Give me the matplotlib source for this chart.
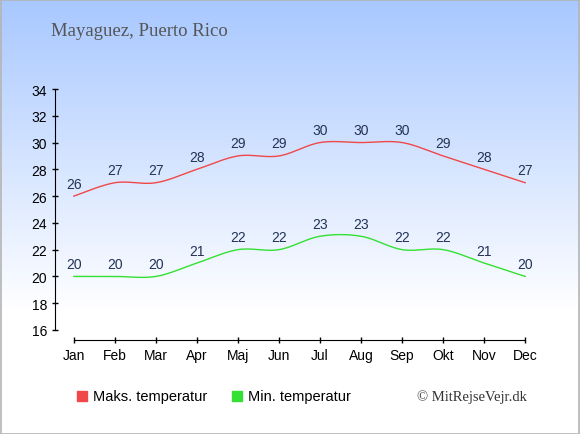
import numpy as np
import matplotlib
matplotlib.use("Agg")
import matplotlib.pyplot as plt
from matplotlib.colors import LinearSegmentedColormap
from matplotlib.patches import Rectangle

# -------------------------------------------------------------------------------------
# Data
# -------------------------------------------------------------------------------------
months = ["Jan", "Feb", "Mar", "Apr", "Maj", "Jun",
          "Jul", "Aug", "Sep", "Okt", "Nov", "Dec"]
max_temp = [26, 27, 27, 28, 29, 29, 30, 30, 30, 29, 28, 27]
min_temp = [20, 20, 20, 21, 22, 22, 23, 23, 22, 22, 21, 20]
y_ticks = list(range(16, 35, 2))

title = "Mayaguez, Puerto Rico"
label_max = "Maks. temperatur"
label_min = "Min. temperatur"
credit = "\u00a9 MitRejseVejr.dk"

red = "#f04848"
green = "#33e033"
label_color = "#223355"


def cardinal(xs, ys, n=30, tension=0.5):
    # smooth curve through the points (cardinal spline)
    xs = np.asarray(xs, float)
    ys = np.asarray(ys, float)
    px = np.concatenate([[xs[0]], xs, [xs[-1]]])
    py = np.concatenate([[ys[0]], ys, [ys[-1]]])
    out_x, out_y = [], []
    t = np.linspace(0, 1, n)
    h00 = 2 * t**3 - 3 * t**2 + 1
    h10 = t**3 - 2 * t**2 + t
    h01 = -2 * t**3 + 3 * t**2
    h11 = t**3 - t**2
    for i in range(1, len(px) - 2):
        mx0 = tension * (px[i + 1] - px[i - 1])
        my0 = tension * (py[i + 1] - py[i - 1])
        mx1 = tension * (px[i + 2] - px[i])
        my1 = tension * (py[i + 2] - py[i])
        out_x.append(h00 * px[i] + h10 * mx0 + h01 * px[i + 1] + h11 * mx1)
        out_y.append(h00 * py[i] + h10 * my0 + h01 * py[i + 1] + h11 * my1)
    return np.concatenate(out_x), np.concatenate(out_y)


plt.rcParams["font.family"] = ["Liberation Sans", "DejaVu Sans"]

fig = plt.figure(figsize=(5.8, 4.35), dpi=100)

# background gradient
bg = fig.add_axes([0, 0, 1, 1])
grad = np.linspace(0, 1, 435).reshape(-1, 1)
cmap = LinearSegmentedColormap.from_list(
    "sky", [(0, "#a8c8ff"), (0.72, "#ffffff"), (1, "#ffffff")])
bg.imshow(grad, aspect="auto", cmap=cmap, extent=[0, 1, 0, 1], origin="upper")
bg.add_patch(Rectangle((0.001, 0.001), 0.997, 0.997, transform=bg.transAxes,
                       fill=False, edgecolor="#b4b4b4", linewidth=1.2))
bg.set_xlim(0, 1)
bg.set_ylim(0, 1)
bg.axis("off")

ax = fig.add_axes([55 / 580, (435 - 341) / 435, (544 - 55) / 580, (341 - 90) / 435])
ax.patch.set_alpha(0)

x = np.arange(len(months))
sx, sy = cardinal(x, max_temp)
ax.plot(sx, sy, color=red, linewidth=1.0)
sx, sy = cardinal(x, min_temp)
ax.plot(sx, sy, color=green, linewidth=1.0)

for xi, v in zip(x, max_temp):
    ax.annotate(str(v), (xi, v), xytext=(0, 9), textcoords="offset points",
                ha="center", va="center", fontsize=10, color=label_color)
for xi, v in zip(x, min_temp):
    ax.annotate(str(v), (xi, v), xytext=(0, 9), textcoords="offset points",
                ha="center", va="center", fontsize=10, color=label_color)

ax.set_xlim(-0.46, 11.46)
ax.set_ylim(15.25, 34)
ax.set_xticks(x)
ax.set_xticklabels(months)
ax.set_yticks(y_ticks)
ax.spines["top"].set_visible(False)
ax.spines["right"].set_visible(False)
ax.spines["left"].set_bounds(16, 34)
ax.spines["bottom"].set_bounds(0, 11)
ax.tick_params(axis="both", direction="inout", length=5, width=1,
               labelsize=10, colors="black", pad=3)

# title and footer
fig.text(51 / 580, 1 - 31 / 435, title, family=["Liberation Serif", "DejaVu Serif"],
         fontsize=13.5, color="#555555", ha="left", va="center")

fig.patches.append(Rectangle((77 / 580, 1 - 402 / 435), 10 / 580, 10 / 435,
                             transform=fig.transFigure, color=red))
fig.text(93 / 580, 1 - 397 / 435, label_max, fontsize=10.5, ha="left", va="center")
fig.patches.append(Rectangle((232 / 580, 1 - 402 / 435), 10 / 580, 10 / 435,
                             transform=fig.transFigure, color=green))
fig.text(248 / 580, 1 - 397 / 435, label_min, fontsize=10.5, ha="left", va="center")
fig.text(527 / 580, 1 - 397 / 435, credit, family=["Liberation Serif", "DejaVu Serif"],
         fontsize=10.5, ha="right", va="center", color="#333333")

fig.savefig("out.png", dpi=100)
